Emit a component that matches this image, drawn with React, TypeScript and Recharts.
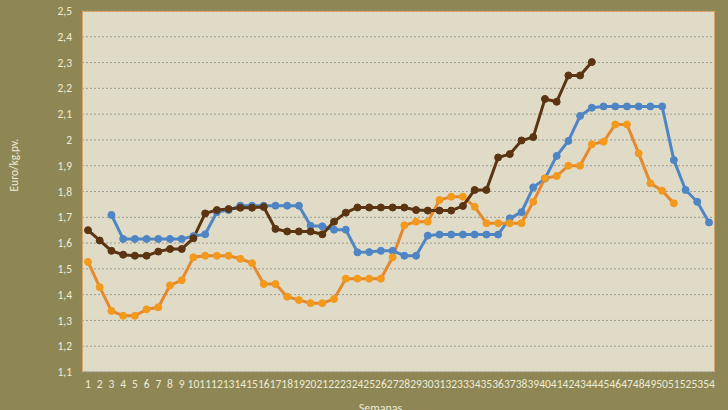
import { LineChart, Line, XAxis, YAxis, CartesianGrid, Label } from 'recharts'

const weeks = Array.from({ length: 54 }, (_, i) => String(i + 1))

const brownValues = [
  1.65, 1.61, 1.57, 1.555, 1.551, 1.551, 1.567, 1.577, 1.577, 1.619,
  1.715, 1.728, 1.732, 1.737, 1.737, 1.74, 1.655, 1.645, 1.645, 1.645,
  1.634, 1.683, 1.718, 1.738, 1.738, 1.738, 1.738, 1.738, 1.728, 1.726,
  1.726, 1.726, 1.744, 1.806, 1.806, 1.932, 1.945, 1.998, 2.011, 2.159,
  2.148, 2.25, 2.25, 2.302,
]

// starts at week 3
const blueValues = [
  1.709, 1.616, 1.616, 1.616, 1.616, 1.616, 1.616, 1.627, 1.634, 1.72,
  1.728, 1.745, 1.745, 1.745, 1.745, 1.745, 1.745, 1.667, 1.665, 1.652,
  1.652, 1.564, 1.565, 1.57, 1.57, 1.551, 1.551, 1.629, 1.633, 1.633,
  1.633, 1.633, 1.633, 1.633, 1.696, 1.72, 1.816, 1.85, 1.938, 1.996,
  2.093, 2.125, 2.13, 2.13, 2.13, 2.13, 2.13, 2.13, 1.922, 1.806,
  1.76, 1.68,
]

const orangeValues = [
  1.527, 1.429, 1.337, 1.318, 1.318, 1.343, 1.351, 1.436, 1.456, 1.545,
  1.551, 1.551, 1.551, 1.539, 1.522, 1.441, 1.441, 1.392, 1.379, 1.367,
  1.367, 1.383, 1.462, 1.462, 1.462, 1.462, 1.545, 1.669, 1.683, 1.683,
  1.767, 1.78, 1.78, 1.741, 1.677, 1.677, 1.677, 1.677, 1.76, 1.851,
  1.86, 1.9, 1.9, 1.983, 1.993, 2.06, 2.06, 1.948, 1.832, 1.803,
  1.754,
]

const yTicks = [1.1, 1.2, 1.3, 1.4, 1.5, 1.6, 1.7, 1.8, 1.9, 2, 2.1, 2.2, 2.3, 2.4, 2.5]

const data = weeks.map((week, i) => ({
  week,
  brown: brownValues[i] ?? null,
  blue: i >= 2 ? blueValues[i - 2] ?? null : null,
  orange: orangeValues[i] ?? null,
}))

const textColor = '#EEEAD6'
const font = "Carlito, 'Liberation Sans Narrow', 'Open Sans', sans-serif"

export default function App() {
  return (
    <div style={{ position: 'absolute', left: 0, top: 0, width: 728, height: 410, background: '#8E8755', overflow: 'hidden' }}>
      <LineChart width={728} height={410} data={data} margin={{ top: 11, right: 13, left: 0, bottom: 0 }}>
        <CartesianGrid fill="#DFDBC7" vertical={false} stroke="#9C9A92" strokeDasharray="2 2" />
        <XAxis
          dataKey="week"
          interval={0}
          height={38}
          padding={{ left: 6, right: 6 }}
          tickLine={false}
          axisLine={false}
          tick={{ fill: textColor, fontSize: 11.5, fontFamily: font }}
        >
          <Label value="Semanas" position="insideBottom" offset={-2} dx={-18} fill={textColor} fontSize={12} fontFamily={font} />
        </XAxis>
        <YAxis
          width={82}
          domain={[1.1, 2.5]}
          ticks={yTicks}
          tickLine={false}
          axisLine={false}
          tickMargin={4}
          tickFormatter={(v: number) => String(v).replace('.', ',')}
          tick={{ fill: textColor, fontSize: 11.5, fontFamily: font }}
        >
          <Label value="Euro/kg.pv." angle={-90} position="insideLeft" offset={14} fill={textColor} fontSize={11.5} fontFamily={font} />
        </YAxis>
        <Line
          dataKey="blue"
          stroke="#4F85C4"
          strokeWidth={3}
          dot={{ r: 3.5, fill: '#4F85C4', stroke: '#4F85C4', strokeWidth: 1 }}
          isAnimationActive={false}
        />
        <Line
          dataKey="orange"
          stroke="#E5892E"
          strokeWidth={3}
          dot={{ r: 3.5, fill: '#F39A1D', stroke: '#F39A1D', strokeWidth: 1 }}
          isAnimationActive={false}
        />
        <Line
          dataKey="brown"
          stroke="#5B3412"
          strokeWidth={3}
          dot={{ r: 3.5, fill: '#5B3412', stroke: '#5B3412', strokeWidth: 1 }}
          isAnimationActive={false}
        />
      </LineChart>
      {/* plot frame */}
      <div
        style={{
          position: 'absolute',
          left: 82,
          top: 11,
          width: 633,
          height: 361,
          boxSizing: 'border-box',
          borderTop: '1px solid #D9A466',
          borderLeft: '1px solid #D9A466',
          borderRight: '1px solid #D9A466',
          borderBottom: '1px solid #B8B2A0',
          pointerEvents: 'none',
        }}
      />
    </div>
  )
}
